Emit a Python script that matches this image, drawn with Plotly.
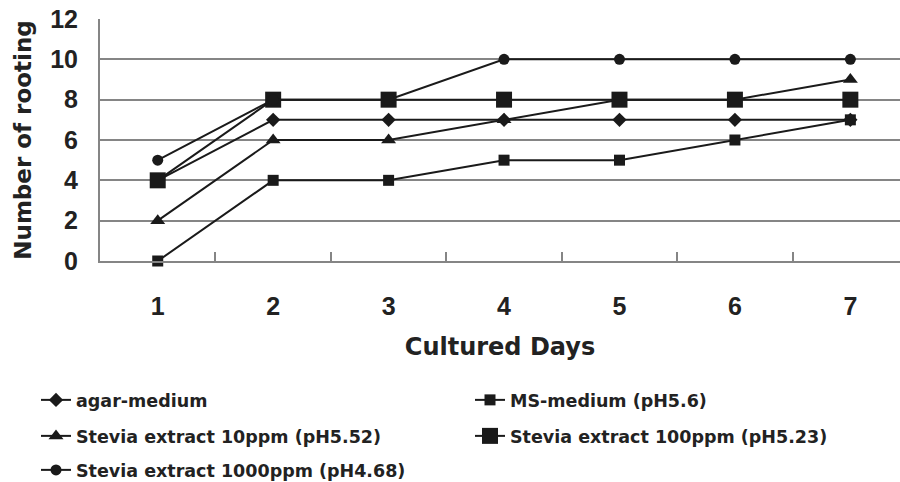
import plotly.graph_objects as go

days = ["1", "2", "3", "4", "5", "6", "7"]
agar_medium = [4, 7, 7, 7, 7, 7, 7]
ms_medium = [0, 4, 4, 5, 5, 6, 7]
stevia_10 = [2, 6, 6, 7, 8, 8, 9]
stevia_100 = [4, 8, 8, 8, 8, 8, 8]
stevia_1000 = [5, 8, 8, 10, 10, 10, 10]

names = [
    "agar-medium",
    "MS-medium (pH5.6)",
    "Stevia extract 10ppm (pH5.52)",
    "Stevia extract 100ppm (pH5.23)",
    "Stevia extract 1000ppm (pH4.68)",
]
series = [agar_medium, ms_medium, stevia_10, stevia_100, stevia_1000]
symbols = ["diamond", "square", "triangle-up", "square", "circle"]
sizes = [11, 11, 13, 16, 11]
legends = ["legend", "legend", "legend2", "legend2", "legend3"]

INK = "#1a1a1a"
GRID = "#858585"

fig = go.Figure()
for nm, ys, sym, sz, lg in zip(names, series, symbols, sizes, legends):
    fig.add_trace(go.Scatter(
        x=days, y=ys, name=nm, mode="lines+markers",
        line=dict(color=INK, width=2),
        marker=dict(symbol=sym, size=sz, color=INK),
        legend=lg, cliponaxis=False,
    ))

tick_font = dict(family="Liberation Sans, Arial, sans-serif", size=25, color="#222", weight="bold")
xlab_font = dict(family="DejaVu Sans, sans-serif", size=24, color="#222", weight="bold")
ylab_font = dict(family="DejaVu Sans, sans-serif", size=23, color="#222", weight="bold")
leg_font = dict(family="DejaVu Sans, sans-serif", size=17.5, color="#222", weight="bold")

plot_top, plot_bot = 19, 261
H = plot_bot - plot_top

def py(y):
    return (plot_bot - y) / H

legx = (36 - 100) / 800

common_leg = dict(orientation="h", xanchor="left", yanchor="middle",
                  x=legx, font=leg_font, entrywidth=389, entrywidthmode="pixels",
                  bgcolor="rgba(0,0,0,0)", itemclick=False)

fig.update_layout(
    width=900, height=482,
    margin=dict(l=100, r=0, t=plot_top, b=482 - plot_bot, autoexpand=False),
    paper_bgcolor="white", plot_bgcolor="white",
    xaxis=dict(
        type="category", range=[-0.5, 6.43],
        showgrid=False, showline=True, linecolor=GRID, linewidth=2,
        ticks="inside", tickson="boundaries", ticklen=9, tickcolor=GRID, tickwidth=1.5,
        tickfont=tick_font, ticklabelstandoff=22,
        title=dict(text="Cultured Days", font=xlab_font, standoff=19),
    ),
    yaxis=dict(
        range=[0, 12], dtick=2, showgrid=True, gridcolor=GRID, gridwidth=2,
        zeroline=False, showline=True, linecolor=GRID, linewidth=2,
        ticks="", tickfont=tick_font, ticklabelstandoff=15,
        title=dict(text="Number of rooting", font=ylab_font, standoff=12),
    ),
    legend=dict(y=py(400), **common_leg),
    legend2=dict(y=py(436), **common_leg),
    legend3=dict(y=py(470), **common_leg),
)

fig.write_html("out.html")
